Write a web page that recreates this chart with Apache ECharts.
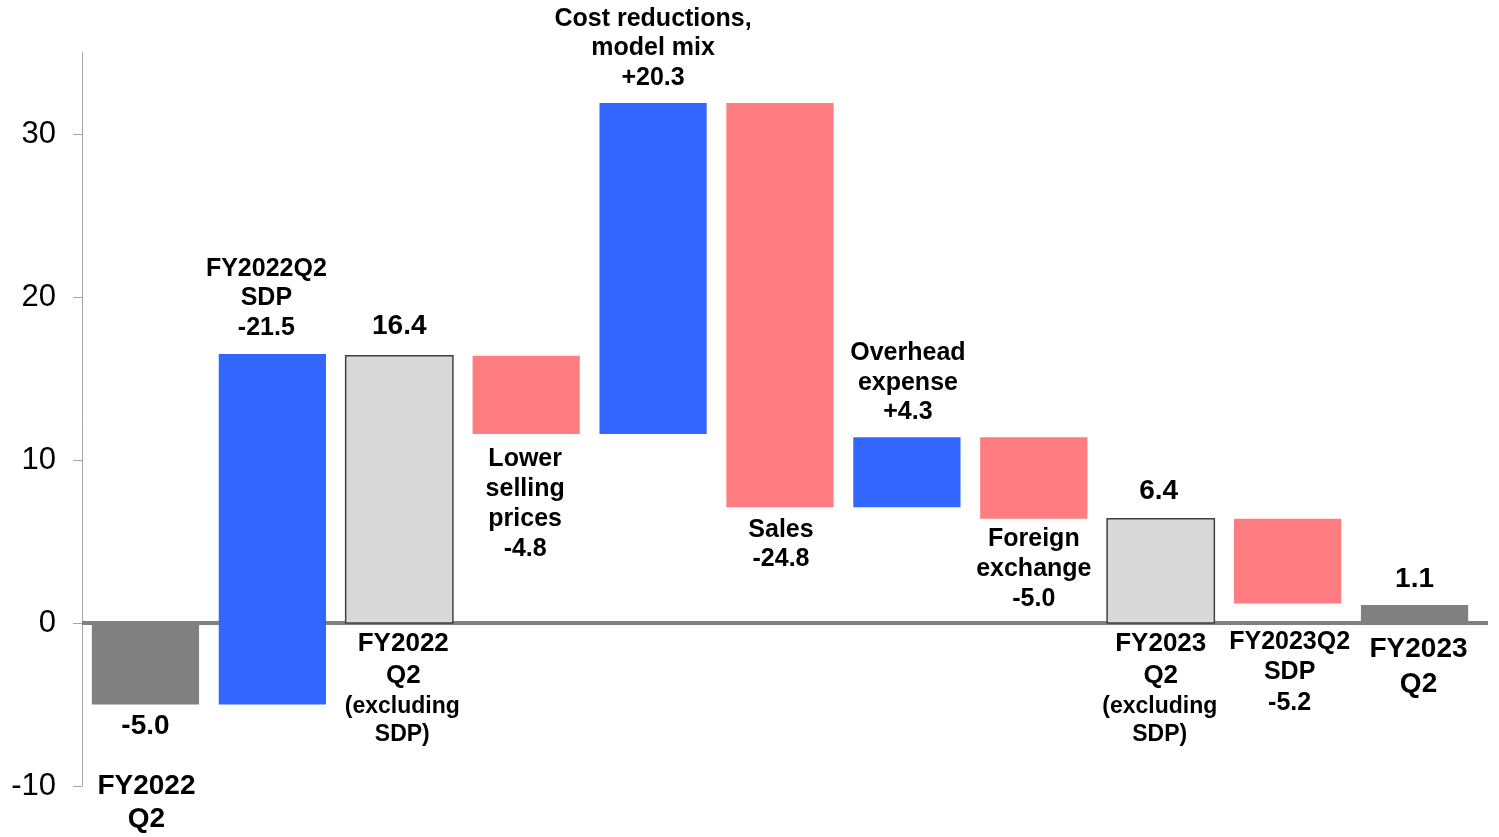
<!DOCTYPE html>
<html>
<head>
<meta charset="utf-8">
<script src="https://cdn.jsdelivr.net/npm/echarts@6/dist/echarts.min.js"></script>
<style>
  html, body { margin: 0; padding: 0; background: #ffffff; }
  #chart { width: 1499px; height: 837px; }
</style>
</head>
<body>
<div id="chart"></div>
<script>
// Operating profit bridge, FY2022 Q2 -> FY2023 Q2 (billions)
const categories = [
  'FY2022 Q2', 'FY2022Q2 SDP', 'FY2022 Q2 (excluding SDP)', 'Lower selling prices',
  'Cost reductions, model mix', 'Sales', 'Overhead expense', 'Foreign exchange',
  'FY2023 Q2 (excluding SDP)', 'FY2023Q2 SDP', 'FY2023 Q2'
];
// 'result' / 'subtotal' bars stand on zero; 'change' bars float from the running total
const barKinds = ['result', 'change', 'subtotal', 'change', 'change', 'change',
                  'change', 'change', 'subtotal', 'change', 'result'];
const barAmounts = [-5.0, 21.5, 16.4, -4.8, 20.3, -24.8, 4.3, -5.0, 6.4, -5.2, 1.1];
const yTicks = [-10, 0, 10, 20, 30];

// Text written around each bar
const labelText = [
  ['-5.0', 'FY2022\nQ2'],
  ['FY2022Q2\nSDP\n-21.5'],
  ['16.4', 'FY2022\nQ2', '(excluding\nSDP)'],
  ['Lower\nselling\nprices\n-4.8'],
  ['Cost reductions,\nmodel mix\n+20.3'],
  ['Sales\n-24.8'],
  ['Overhead\nexpense\n+4.3'],
  ['Foreign\nexchange\n-5.0'],
  ['6.4', 'FY2023\nQ2', '(excluding\nSDP)'],
  ['FY2023Q2\nSDP\n-5.2'],
  ['1.1', 'FY2023\nQ2']
];

// Placement of each text block: anchor (bar high edge, low edge or zero line),
// offset of the first line's centre, horizontal nudge, font size, line height
const labelLayout = [
  [{ at: 'low', dy: 22, dx: 0, fs: 28, lh: 32 }, { at: 'low', dy: 82, dx: 1, fs: 28, lh: 33 }],
  [{ at: 'high', dy: -85, dx: -6, fs: 25, lh: 29.5 }],
  [{ at: 'high', dy: -29, dx: 0, fs: 28, lh: 32 }, { at: 'zero', dy: 21, dx: 4, fs: 26, lh: 32 }, { at: 'zero', dy: 84, dx: 3, fs: 23, lh: 28 }],
  [{ at: 'low', dy: 25, dx: -1, fs: 25, lh: 30 }],
  [{ at: 'high', dy: -84, dx: 0, fs: 25, lh: 29.5 }],
  [{ at: 'low', dy: 23, dx: 1, fs: 25, lh: 29 }],
  [{ at: 'high', dy: -84, dx: 1, fs: 25, lh: 29.5 }],
  [{ at: 'low', dy: 20, dx: 0, fs: 25, lh: 30 }],
  [{ at: 'high', dy: -27, dx: -2, fs: 28, lh: 32 }, { at: 'zero', dy: 21, dx: 0, fs: 26, lh: 32 }, { at: 'zero', dy: 84, dx: -1, fs: 23, lh: 28 }],
  [{ at: 'zero', dy: 19, dx: 2, fs: 25, lh: 30.5 }],
  [{ at: 'high', dy: -26, dx: 0, fs: 28, lh: 32 }, { at: 'zero', dy: 26, dx: 4, fs: 28, lh: 35 }]
];

const FILL = { up: '#3366FF', down: '#FF7C80', result: '#808080', subtotal: '#D9D9D9' };
const FONT = '"Liberation Sans", Arial, sans-serif';

// Running totals -> [index, start, end] for every bar
const barData = [];
let running = 0;
barAmounts.forEach((amt, i) => {
  if (barKinds[i] === 'change') {
    barData.push([i, running, running + amt]);
    running = running + amt;
  } else {
    barData.push([i, 0, amt]);
    running = amt;
  }
});

function barColor(i, start, end) {
  if (barKinds[i] === 'result') return FILL.result;
  if (barKinds[i] === 'subtotal') return FILL.subtotal;
  return end >= start ? FILL.up : FILL.down;
}

function renderBar(params, api) {
  const i = api.value(0);
  const start = api.value(1);
  const end = api.value(2);
  const pStart = api.coord([i, start]);
  const pEnd = api.coord([i, end]);
  const pZero = api.coord([i, 0]);
  const band = api.size([1, 0])[0];
  const w = band * 0.845;
  const top = Math.min(pStart[1], pEnd[1]);
  const bottom = Math.max(pStart[1], pEnd[1]);
  const cx = pStart[0];
  const isSub = barKinds[i] === 'subtotal';
  const children = [{
    type: 'rect',
    shape: { x: cx - w / 2, y: top, width: w, height: bottom - top },
    style: {
      fill: barColor(i, start, end),
      stroke: isSub ? '#404040' : null,
      lineWidth: isSub ? 1.5 : 0
    }
  }];
  labelText[i].forEach((txt, k) => {
    const lay = labelLayout[i][k];
    const anchorY = lay.at === 'high' ? top : (lay.at === 'low' ? bottom : pZero[1]);
    children.push({
      type: 'text',
      style: {
        text: txt,
        x: cx + lay.dx,
        y: anchorY + lay.dy - lay.lh / 2,
        align: 'center',
        verticalAlign: 'top',
        font: 'bold ' + lay.fs + 'px ' + FONT,
        lineHeight: lay.lh,
        fill: '#000000'
      }
    });
  });
  return { type: 'group', children: children };
}

// Zero baseline, drawn underneath the bars
function renderZeroLine(params, api) {
  const cs = params.coordSys;
  const y = api.coord([0, 0])[1];
  return {
    type: 'line',
    shape: { x1: cs.x, y1: y, x2: cs.x + cs.width + 10, y2: y },
    style: { stroke: '#808080', lineWidth: 4 }
  };
}

const chart = echarts.init(document.getElementById('chart'), null, { renderer: 'canvas' });
chart.setOption({
  backgroundColor: '#ffffff',
  animation: false,
  grid: { left: 82, right: 21, top: 52.5, bottom: 51, containLabel: false },
  xAxis: {
    type: 'category',
    data: categories,
    show: false
  },
  yAxis: {
    type: 'value',
    min: -10,
    max: 35,
    interval: 10,
    splitLine: { show: false },
    axisLine: { show: true, lineStyle: { color: '#A6A6A6', width: 1 } },
    axisTick: { show: true, length: 9, customValues: yTicks, lineStyle: { color: '#A6A6A6', width: 1 } },
    axisLabel: {
      customValues: yTicks,
      margin: 26,
      fontSize: 31,
      fontFamily: FONT,
      color: '#000000'
    }
  },
  series: [
    {
      type: 'custom',
      renderItem: renderZeroLine,
      data: [[0, 0]],
      clip: false,
      silent: true,
      z: 1
    },
    {
      type: 'custom',
      renderItem: renderBar,
      data: barData,
      clip: false,
      z: 2
    }
  ]
});
</script>
</body>
</html>
